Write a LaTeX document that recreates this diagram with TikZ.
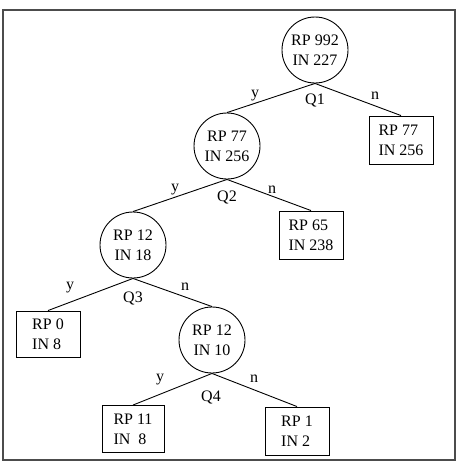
\documentclass[tikz,border=0pt]{standalone}
\usepackage{fontspec}
\setmainfont{Liberation Serif}
\begin{document}
\begin{tikzpicture}[x=1pt,y=-1pt,
  every node/.style={font=\fontsize{16}{20}\selectfont},
  qnode/.style={draw,circle,minimum size=66pt,inner sep=0pt,align=center,line width=0.9pt},
  leaf/.style={draw,rectangle,minimum width=64pt,minimum height=48pt,inner sep=0pt,align=left,line width=0.9pt},
  edge/.style={line width=0.9pt},
  lbl/.style={inner sep=0pt}]
\useasboundingbox (0,0) rectangle (458,464);
\draw[line width=1.3pt,gray!60!black] (3,10) rectangle (455,460);
\node[qnode] (c1) at (315,50) {RP 992\\IN 227};
\node[qnode] (c2) at (227,146) {RP 77\\IN 256};
\node[qnode] (c3) at (133,245) {RP 12\\IN 18};
\node[qnode] (c4) at (212,340) {RP 12\\IN 10};
\node[leaf] (r1) at (401,140) {RP 77\\IN 256};
\node[leaf] (r2) at (311,235) {RP 65\\IN 238};
\node[leaf,minimum height=46pt] (r3) at (48,334) {RP 0\\IN 8};
\node[leaf,minimum width=62pt,minimum height=47pt] (r4) at (133,429) {RP 11\\IN\ \ 8};
\node[leaf] (r5) at (297,431) {RP 1\\IN 2};
\draw[edge] (c1.south) -- (c2.north);
\draw[edge] (c1.south) -- (r1.north);
\draw[edge] (c2.south) -- (c3.north);
\draw[edge] (c2.south) -- (r2.north);
\draw[edge] (c3.south) -- (r3.north);
\draw[edge] (c3.south) -- (c4.north);
\draw[edge] (c4.south) -- (r4.north);
\draw[edge] (c4.south) -- (r5.north);
\node[lbl] (q1) at (315,100) {Q1};
\node[lbl] (y1) at (255,96) {y};
\node[lbl] (n1) at (375,96) {n};
\node[lbl] (q2) at (227,197) {Q2};
\node[lbl] (y2) at (175,190) {y};
\node[lbl] (n2) at (272,190) {n};
\node[lbl] (q3) at (133,298) {Q3};
\node[lbl] (y3) at (70,288) {y};
\node[lbl] (n3) at (185,287) {n};
\node[lbl] (q4) at (211,397) {Q4};
\node[lbl] (y4) at (160,380) {y};
\node[lbl] (n4) at (254,379) {n};
\end{tikzpicture}
\end{document}
